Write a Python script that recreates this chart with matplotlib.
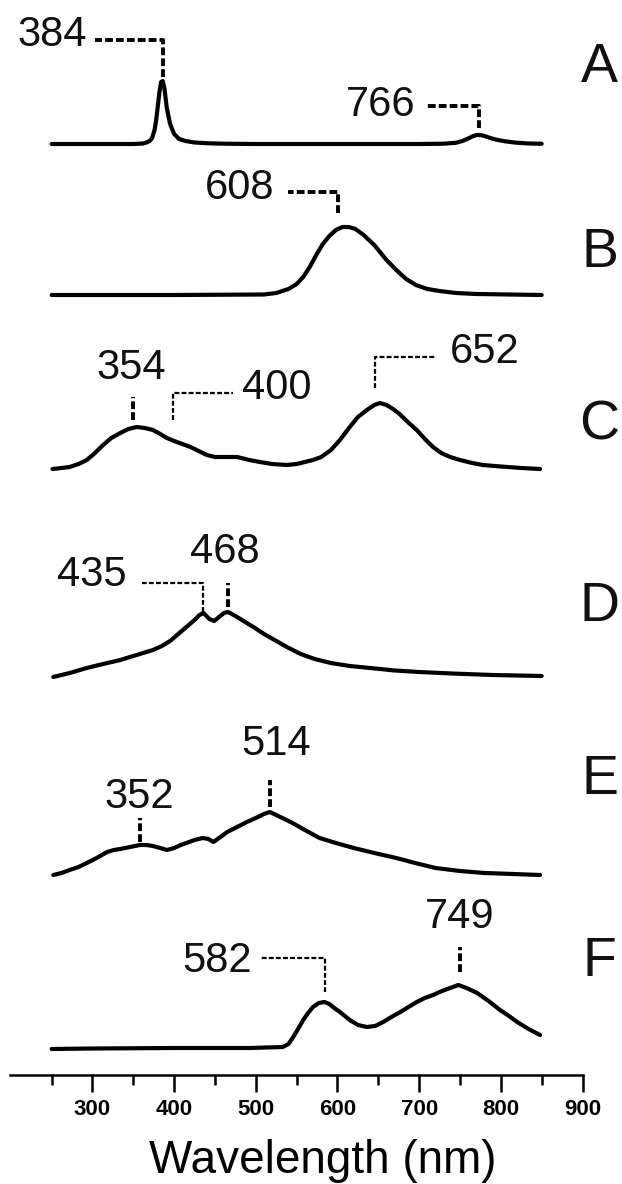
import matplotlib
matplotlib.use("Agg")
import matplotlib.pyplot as plt

plt.rcParams['font.family'] = ['Liberation Sans', 'DejaVu Sans']

# ---------------- data (intensity in a.u.) ----------------
wl_A = [250, 300, 350, 362, 366, 370, 373, 376, 378, 380, 382, 384, 386, 388, 391, 395,
        400, 406, 414, 425, 440, 460, 500, 600, 700, 730, 745, 753, 760, 765, 770, 775,
        780, 787, 795, 805, 818, 832, 850]
int_A = [0, 0, 0, 0.5, 1.5, 3, 6, 14, 24, 38, 52, 62, 63, 56, 36, 20,
         10, 5, 3, 1.5, 0.8, 0.3, 0, 0, 0, 0.3, 1.2, 3, 5.5, 7.5, 9, 9,
         8, 6, 4.2, 2.7, 1.4, 0.6, 0.2]

wl_B = [250, 400, 510, 525, 540, 550, 558, 566, 574, 582, 590, 598, 606, 614, 622, 632,
        645, 660, 672, 684, 696, 710, 725, 745, 770, 850]
int_B = [0, 0, 0.5, 2, 6, 11, 18, 28, 40, 51, 59, 65, 68, 68, 66, 60,
         50, 35, 25, 16, 10, 6, 4, 2, 1, 0]

wl_C = [251, 262, 272, 283, 293, 303, 313, 323, 334, 344, 354, 364, 374, 383, 391, 400,
        410, 420, 430, 440, 450, 462, 477, 492, 505, 520, 538, 550, 560, 570, 580, 592,
        603, 615, 625, 636, 645, 652, 660, 668, 676, 686, 697, 707, 717, 727, 738, 750,
        765, 778, 800, 825, 848]
int_C = [0, 1, 2, 5, 9, 16, 24, 31, 36, 40, 42, 41, 39, 35, 31, 28,
         25, 22, 18, 14, 12, 12, 12, 9, 7, 5, 4, 5, 7, 9, 12, 19,
         29, 42, 52, 59, 64, 66, 64, 60, 55, 47, 39, 30, 22, 16, 12, 9,
         6, 4, 2.5, 1, 0]

wl_D = [252, 272, 293, 313, 334, 354, 374, 385, 395, 405, 415, 425, 431, 436, 443, 449,
        455, 461, 466, 475, 485, 497, 510, 523, 538, 555, 572, 592, 615, 640, 670, 700,
        740, 790, 850]
int_D = [0, 4, 9, 13, 17, 22, 27, 31, 36, 43, 50, 57, 62, 64, 58, 56,
         60, 64, 65, 61, 56, 50, 43, 37, 30, 23, 18, 14, 11, 9, 6.5, 5,
         3.5, 2, 1]

wl_E = [252, 262, 272, 283, 293, 305, 318, 326, 334, 346, 358, 366, 374, 383, 391, 400,
        408, 415, 425, 435, 442, 448, 455, 465, 477, 489, 500, 510, 517, 525, 535, 545,
        560, 578, 598, 620, 645, 672, 695, 720, 750, 780, 815, 848]
int_E = [0, 2, 5, 8, 12, 17, 23, 25, 26, 28, 30, 30, 29, 27, 25, 27,
         30, 32, 35, 37, 36, 33, 37, 43, 48, 53, 57, 61, 63, 60, 56, 52,
         45, 37, 32, 27, 22, 17, 12, 7, 4, 2, 1, 0]

wl_F = [250, 300, 400, 493, 533, 540, 545, 551, 558, 564, 570, 577, 584, 590, 596, 603,
        609, 615, 625, 636, 646, 656, 666, 677, 687, 697, 707, 717, 728, 738, 748, 758,
        771, 785, 799, 810, 820, 834, 848]
int_F = [0, 0.5, 1, 1, 2, 5, 11, 19, 29, 36, 42, 46, 47, 45, 41, 37,
         33, 29, 24, 22, 23, 27, 32, 37, 42, 47, 51, 54, 58, 61, 64, 61,
         56, 48, 39, 33, 27, 20, 14]

panel_letters = ['A', 'B', 'C', 'D', 'E', 'F']
offsets = [931, 780, 606, 398, 200, 26]

# peak labels: (panel index, label, marker wavelength)
peak_labels = ['384', '766', '608', '354', '400', '652', '435', '468', '352', '514', '582', '749']
peak_panel = [0, 0, 1, 2, 2, 2, 3, 3, 4, 4, 5, 5]
peak_wl = [386, 773, 600.5, 349.5, 398.5, 645.8, 435, 466, 358, 517, 584.6, 750]

xticks_major = [300, 400, 500, 600, 700, 800, 900]
xticks_minor = [250, 350, 450, 550, 650, 750, 850]

# ---------------- layout (pixel-based helpers) ----------------
W, H = 622, 1184
AX_L, AX_R, AX_B = 10, 582.5, 1075
XMIN, XMAX = 199, 900

def ypx(p):  # pixel row -> data y
    return AX_B - p

# leader layout per label: (vertical bottom px, elbow px, horizontal end wl or None,
#                           text x wl, text y px, ha, thick)
leader = [
    (77, 40, 303, 293, 35, 'right', True),
    (128, 106, 709.5, 695, 105, 'right', True),
    (213, 192, 539, 523, 188, 'right', True),
    (420, 397, None, 347, 368, 'center', True),
    (420, 393, 472, 483, 388, 'left', False),
    (388, 357, 720.5, 737.7, 352, 'left', False),
    (612, 583, 360.6, 342, 575, 'right', False),
    (607, 583, None, 462, 552, 'center', True),
    (842, 818, None, 357, 797, 'center', True),
    (807, 780, None, 525, 744, 'center', True),
    (992, 958, 505, 495, 961, 'right', False),
    (972, 947, None, 750, 917, 'center', True),
]
letter_y = [68, 253, 426, 607, 780, 962]

fig = plt.figure(figsize=(W / 100, H / 100), dpi=100)
ax = fig.add_axes([AX_L / W, 1 - AX_B / H, (AX_R - AX_L) / W, AX_B / H])
ax.set_xlim(XMIN, XMAX)
ax.set_ylim(0, AX_B)

series = [(wl_A, int_A), (wl_B, int_B), (wl_C, int_C), (wl_D, int_D), (wl_E, int_E), (wl_F, int_F)]
for (wl, iv), off in zip(series, offsets):
    ax.plot(wl, [v + off for v in iv], color='black', lw=3.0, solid_capstyle='round',
            solid_joinstyle='round')

for (lab, pi, wx, lay) in zip(peak_labels, peak_panel, peak_wl, leader):
    vb, ve, hx, tx, ty, ha, thick = lay
    lw = 2.8 if thick else 1.6
    dash = (2.0, 0.8) if thick else (2.2, 1.0)
    xs = [wx, wx]
    ys = [ypx(vb), ypx(ve)]
    if hx is not None:
        xs.append(hx)
        ys.append(ypx(ve))
    ax.plot(xs, ys, color='black', lw=lw, dashes=dash, solid_joinstyle='miter',
            dash_capstyle='butt')
    ax.text(tx, ypx(ty), lab, fontsize=30, ha=ha, va='center', color='#111111')

for let, ly in zip(panel_letters, letter_y):
    ax.text(921, ypx(ly), let, fontsize=40, ha='center', va='center', clip_on=False,
            color='#111111')

for s in ['top', 'right', 'left']:
    ax.spines[s].set_visible(False)
ax.spines['bottom'].set_linewidth(1.8)
ax.set_yticks([])
ax.set_xticks(xticks_major)
ax.set_xticks(xticks_minor, minor=True)
ax.tick_params(axis='x', which='major', length=12, width=1.8, direction='out', pad=5,
               labelsize=16)
ax.tick_params(axis='x', which='minor', length=7, width=1.8, direction='out')
for t in ax.get_xticklabels():
    t.set_fontweight('bold')

ax.set_xlabel('Wavelength (nm)', fontsize=33)
ax.xaxis.set_label_coords((322.5 - AX_L) / (AX_R - AX_L), -(1161 - AX_B) / AX_B)
ax.xaxis.label.set_va('center')

fig.savefig('out.png', dpi=100)
